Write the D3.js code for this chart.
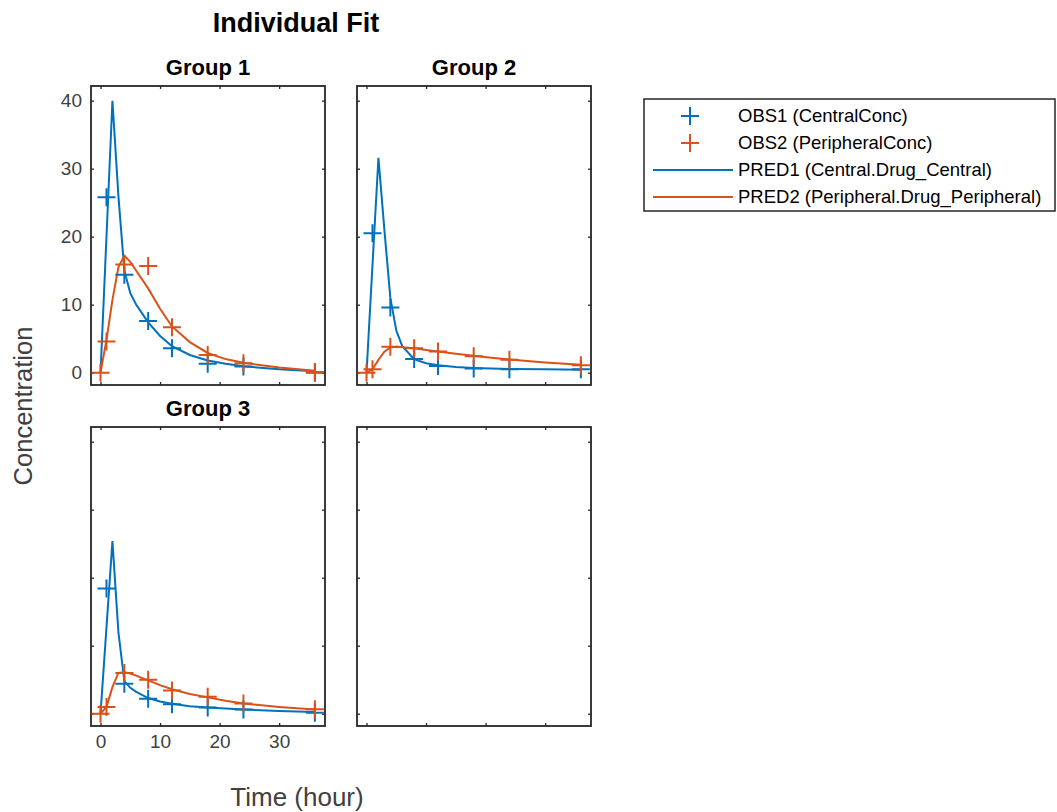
<!DOCTYPE html>
<html>
<head>
<meta charset="utf-8">
<script src="https://cdn.jsdelivr.net/npm/d3@7"></script>
<style>
  body { margin: 0; background: #fff; }
  svg { font-family: "Liberation Sans", Arial, Helvetica, sans-serif; }
  .tick text { fill: #404040; }
  .tick line { stroke: #262626; }
</style>
</head>
<body>
<svg id="chart" width="1057" height="812"></svg>
<script>
// observation times (hour)
var obsTimes1 = [1, 4, 8, 12, 18, 24, 36];
var obsTimes2 = [0, 1, 4, 8, 12, 18, 24, 36];
// model prediction time grid
var predTimes = [0, 1, 2, 3, 4, 5, 6, 8, 10, 12, 15, 18, 21, 24, 30, 36];

var groups = ['Group 1', 'Group 2', 'Group 3'];

// OBS1 (CentralConc)
var obs1G1 = [25.8, 14.4, 7.6, 3.6, 1.3, 0.9, 0.0];
var obs1G2 = [20.5, 9.6, 2.0, 1.0, 0.6, 0.5, 0.5];
var obs1G3 = [18.4, 4.4, 2.2, 1.4, 0.9, 0.6, 0.15];

// OBS2 (PeripheralConc)
var obs2G1 = [0, 4.6, 15.9, 15.7, 6.7, 2.6, 1.4, 0.1];
var obs2G2 = [0, 0.5, 3.8, 3.6, 3.1, 2.4, 1.9, 1.1];
var obs2G3 = [0, 1.0, 6.0, 5.0, 3.4, 2.5, 1.5, 0.65];

// PRED1 (Central.Drug_Central)
var pred1G1 = [0, 20, 40, 26, 15, 11.7, 10, 7.4, 5.4, 3.9, 2.6, 1.8, 1.3, 0.95, 0.5, 0.2];
var pred1G2 = [0, 15.8, 31.6, 21, 11, 6.2, 3.9, 2.0, 1.4, 1.1, 0.85, 0.7, 0.6, 0.55, 0.5, 0.45];
var pred1G3 = [0, 12.7, 25.4, 12, 4.8, 3.8, 3.2, 2.3, 1.8, 1.45, 1.1, 0.9, 0.75, 0.6, 0.4, 0.25];

// PRED2 (Peripheral.Drug_Peripheral)
var pred2G1 = [0, 4.8, 10.7, 15.5, 17.2, 16.3, 15.0, 12.4, 9.4, 6.8, 4.5, 2.9, 2.0, 1.45, 0.75, 0.3];
var pred2G2 = [0, 0.5, 1.9, 3.1, 3.7, 3.8, 3.75, 3.6, 3.35, 3.1, 2.8, 2.5, 2.2, 1.95, 1.5, 1.15];
var pred2G3 = [0, 1.0, 3.9, 6.0, 6.1, 5.9, 5.6, 4.9, 4.2, 3.6, 2.9, 2.4, 1.9, 1.5, 1.0, 0.6];

var xTicks = [0, 10, 20, 30];
var yTicks = [0, 10, 20, 30, 40];

var legendLabels = ['OBS1 (CentralConc)', 'OBS2 (PeripheralConc)',
                    'PRED1 (Central.Drug_Central)', 'PRED2 (Peripheral.Drug_Peripheral)'];

var blue = '#0072BD', orange = '#D95319', axisCol = '#262626';

var panelData = [
  { title: groups[0], o1: obs1G1, o2: obs2G1, p1: pred1G1, p2: pred2G1 },
  { title: groups[1], o1: obs1G2, o2: obs2G2, p1: pred1G2, p2: pred2G2 },
  { title: groups[2], o1: obs1G3, o2: obs2G3, p1: pred1G3, p2: pred2G3 },
  null
];

var svg = d3.select('#chart');
var pw = 234, ph = 299;
var colX = [91, 357], rowY = [86, 427];

var x = d3.scaleLinear().domain([-1.6, 37.7]).range([0, pw]);
var y = d3.scaleLinear().domain([-1.81, 42.16]).range([ph, 0]);

var line = d3.line()
    .x(function(d) { return x(d[0]); })
    .y(function(d) { return y(d[1]); });

var plusPath = 'M-9,0H9M0,-9V9';

function zip(t, v) {
  return t.map(function(tt, i) { return [tt, v[i]]; });
}

panelData.forEach(function(p, i) {
  var col = i % 2, row = Math.floor(i / 2);
  var g = svg.append('g')
      .attr('transform', 'translate(' + colX[col] + ',' + rowY[row] + ')');

  var showY = (i === 0), showX = (i === 2);

  var axes = [
    { ax: d3.axisLeft(y).tickValues(yTicks), tr: null, lab: showY },
    { ax: d3.axisRight(y).tickValues(yTicks), tr: 'translate(' + pw + ',0)', lab: false },
    { ax: d3.axisTop(x).tickValues(xTicks), tr: null, lab: false },
    { ax: d3.axisBottom(x).tickValues(xTicks), tr: 'translate(0,' + ph + ')', lab: showX }
  ];
  axes.forEach(function(a) {
    a.ax.tickSizeInner(-3).tickSizeOuter(0).tickPadding(a.lab ? 9 : 0);
    if (!a.lab) a.ax.tickFormat('');
    var ag = g.append('g').call(a.ax);
    if (a.tr) ag.attr('transform', a.tr);
    ag.select('.domain').remove();
    ag.selectAll('.tick line').attr('stroke-width', 1.3);
    ag.selectAll('.tick text').style('font-size', '19px');
  });

  g.append('rect')
      .attr('width', pw).attr('height', ph)
      .attr('fill', 'none')
      .attr('stroke', axisCol)
      .attr('stroke-width', 1.8);

  if (!p) return;

  g.append('text')
      .attr('x', pw / 2).attr('y', -11)
      .attr('text-anchor', 'middle')
      .style('font-size', '22px').style('font-weight', 'bold')
      .attr('fill', '#000')
      .text(p.title);

  g.append('path').datum(zip(predTimes, p.p1))
      .attr('d', line).attr('fill', 'none')
      .attr('stroke', blue).attr('stroke-width', 2);
  g.append('path').datum(zip(predTimes, p.p2))
      .attr('d', line).attr('fill', 'none')
      .attr('stroke', orange).attr('stroke-width', 2);

  g.selectAll('.o1').data(zip(obsTimes1, p.o1)).enter().append('path')
      .attr('class', 'o1')
      .attr('transform', function(d) { return 'translate(' + x(d[0]) + ',' + y(d[1]) + ')'; })
      .attr('d', plusPath).attr('fill', 'none')
      .attr('stroke', blue).attr('stroke-width', 2);
  g.selectAll('.o2').data(zip(obsTimes2, p.o2)).enter().append('path')
      .attr('class', 'o2')
      .attr('transform', function(d) { return 'translate(' + x(d[0]) + ',' + y(d[1]) + ')'; })
      .attr('d', plusPath).attr('fill', 'none')
      .attr('stroke', orange).attr('stroke-width', 2);
});

// titles and axis labels
svg.append('text')
    .attr('x', 296).attr('y', 32)
    .attr('text-anchor', 'middle')
    .style('font-size', '27px').style('font-weight', 'bold')
    .text('Individual Fit');

svg.append('text')
    .attr('x', 297).attr('y', 806)
    .attr('text-anchor', 'middle')
    .attr('fill', '#404040')
    .style('font-size', '26px')
    .text('Time (hour)');

svg.append('text')
    .attr('transform', 'translate(32,406) rotate(-90)')
    .attr('text-anchor', 'middle')
    .attr('fill', '#404040')
    .style('font-size', '25.5px')
    .text('Concentration');

// legend
var lg = svg.append('g').attr('transform', 'translate(644,99)');
lg.append('rect')
    .attr('width', 411).attr('height', 112)
    .attr('fill', '#fff').attr('stroke', axisCol).attr('stroke-width', 1.5);

var legendColors = [blue, orange, blue, orange];
legendLabels.forEach(function(lab, i) {
  var cy = 17 + i * 27;
  if (i < 2) {
    lg.append('path')
        .attr('transform', 'translate(46,' + cy + ')')
        .attr('d', plusPath).attr('fill', 'none')
        .attr('stroke', legendColors[i]).attr('stroke-width', 2);
  } else {
    lg.append('line')
        .attr('x1', 9).attr('x2', 89).attr('y1', cy).attr('y2', cy)
        .attr('stroke', legendColors[i]).attr('stroke-width', 2);
  }
  lg.append('text')
      .attr('x', 94).attr('y', cy)
      .attr('dy', '0.35em')
      .attr('fill', '#000')
      .style('font-size', '18.5px')
      .text(lab);
});
</script>
</body>
</html>
